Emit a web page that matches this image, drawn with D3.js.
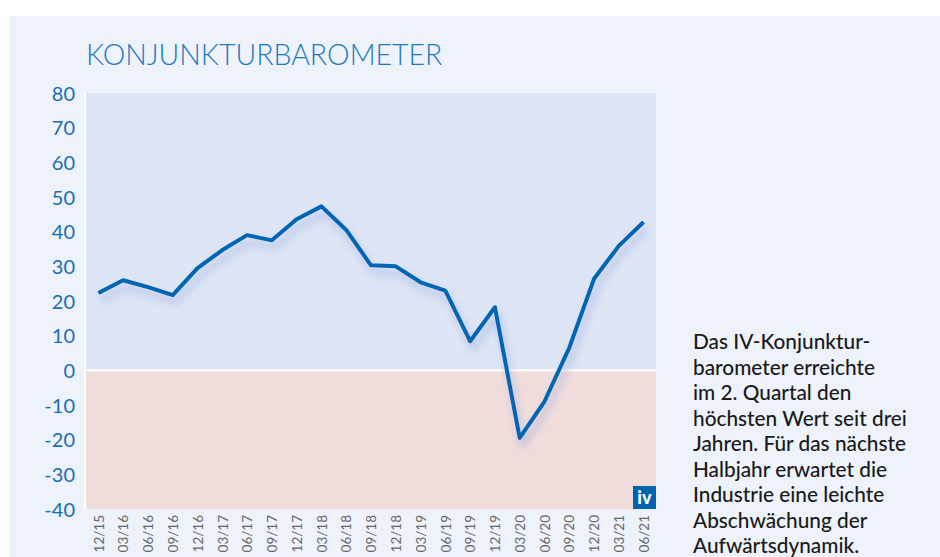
<!DOCTYPE html>
<html>
<head>
<meta charset="utf-8">
<script src="https://cdn.jsdelivr.net/npm/d3@7"></script>
<style>
  html, body { margin: 0; padding: 0; background: #fff; }
  svg { display: block; font-family: Lato, "Open Sans", sans-serif; }
</style>
</head>
<body>
<svg id="chart" width="940" height="557"></svg>
<script>
// quarters (MM/YY)
const quarters = ["12/15", "03/16", "06/16", "09/16", "12/16", "03/17", "06/17", "09/17",
  "12/17", "03/18", "06/18", "09/18", "12/18", "03/19", "06/19", "09/19", "12/19",
  "03/20", "06/20", "09/20", "12/20", "03/21", "06/21"];
// barometer values
const values = [22.3, 26, 24, 21.7, 29.5, 34.7, 39, 37.5, 43.6, 47.3, 40.5, 30.3, 30,
  25.4, 23, 8.4, 18.2, -19.5, -9, 6.5, 26.4, 35.9, 42.8];
const yTicks = [80, 70, 60, 50, 40, 30, 20, 10, 0, -10, -20, -30, -40];
const noteLines = ["Das IV-Konjunktur-", "barometer erreichte", "im 2. Quartal den",
  "höchsten Wert seit drei", "Jahren. Für das nächste", "Halbjahr erwartet die",
  "Industrie eine leichte", "Abschwächung der", "Aufwärtsdynamik."];

const data = quarters.map((q, i) => ({ q: q, v: values[i] }));

const svg = d3.select("#chart");
const plot = { left: 86, right: 656, top: 93, bottom: 509 };

// background panel
svg.append("rect").attr("x", 9).attr("y", 16).attr("width", 931).attr("height", 541)
  .attr("fill", "#eef3fb");

const x = d3.scalePoint().domain(quarters).range([plot.left, plot.right]).padding(0.5);
const y = d3.scaleLinear().domain([-40, 80]).range([plot.bottom, plot.top]);

// bands
svg.append("rect").attr("x", plot.left).attr("y", y(80)).attr("width", plot.right - plot.left)
  .attr("height", y(0) - y(80)).attr("fill", "#dee5f4");
svg.append("rect").attr("x", plot.left).attr("y", y(0)).attr("width", plot.right - plot.left)
  .attr("height", y(-40) - y(0)).attr("fill", "#f0dddb");
svg.append("line").attr("x1", plot.left).attr("x2", plot.right).attr("y1", y(0)).attr("y2", y(0))
  .attr("stroke", "#fff").attr("stroke-width", 2);
svg.append("line").attr("x1", plot.left - 1).attr("x2", plot.left - 1)
  .attr("y1", plot.top).attr("y2", plot.bottom)
  .attr("stroke", "#fff").attr("stroke-width", 2);

// title
svg.append("text").attr("x", plot.left).attr("y", 65).text("KONJUNKTURBAROMETER")
  .attr("font-size", 28.5).attr("font-weight", 300).attr("fill", "#1f78c1");

// y axis
const yAxis = svg.append("g").attr("transform", `translate(${plot.left - 3},0)`)
  .call(d3.axisLeft(y).tickValues(yTicks).tickSize(0).tickPadding(8)
    .tickFormat((d) => String(d)));
yAxis.select(".domain").remove();
yAxis.selectAll("text").attr("font-size", 20).attr("font-family", "Lato")
  .attr("fill", "#1a6db3").attr("dy", "0.36em");

// x axis
const xAxis = svg.append("g").attr("transform", `translate(0,${plot.bottom})`)
  .call(d3.axisBottom(x).tickSize(0));
xAxis.select(".domain").remove();
xAxis.selectAll("text")
  .attr("transform", "rotate(-90)")
  .attr("x", -6).attr("y", 0).attr("dy", "0.35em")
  .style("text-anchor", "end")
  .attr("font-size", 13.5).attr("font-family", "Lato").attr("fill", "#666");

// shadow filter
const defs = svg.append("defs");
const f = defs.append("filter").attr("id", "shadow")
  .attr("x", "-10%").attr("y", "-10%").attr("width", "120%").attr("height", "130%");
f.append("feDropShadow").attr("dx", 3).attr("dy", 7).attr("stdDeviation", 4)
  .attr("flood-color", "#7f98dc").attr("flood-opacity", 0.55);

const line = d3.line().x((d) => x(d.q)).y((d) => y(d.v));
svg.append("path").datum(data).attr("d", line)
  .attr("fill", "none").attr("stroke", "#0066b3").attr("stroke-width", 4)
  .attr("stroke-linejoin", "round").attr("filter", "url(#shadow)");

// iv logo
svg.append("rect").attr("x", plot.right - 23).attr("y", plot.bottom - 23)
  .attr("width", 23).attr("height", 23).attr("fill", "#0063ad");
svg.append("text").attr("x", plot.right - 11.5).attr("y", plot.bottom - 5)
  .attr("text-anchor", "middle")
  .attr("font-size", 18).attr("font-weight", 900).attr("fill", "#fff").text("iv");

// note
const note = svg.append("text").attr("x", 693).attr("y", 349)
  .attr("font-size", 20.8).attr("font-weight", 500).attr("fill", "#1a1a1a");
note.selectAll("tspan").data(noteLines).enter().append("tspan")
  .attr("x", 693).attr("dy", (d, i) => (i === 0 ? 0 : 25.5)).text((d) => d);
</script>
</body>
</html>
